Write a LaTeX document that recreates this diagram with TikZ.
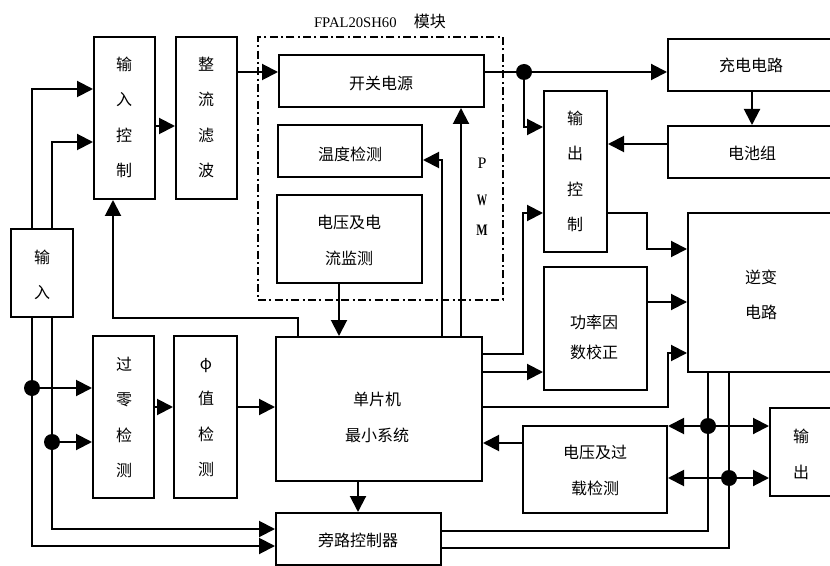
\documentclass[tikz,border=0pt]{standalone}
\usepackage{fontspec}
\usepackage{graphicx}
\setmainfont{Noto Sans CJK SC}
\newfontfamily\latinserif{Liberation Serif}
\usetikzlibrary{arrows.meta,fit}

\begin{document}
\begin{tikzpicture}[x=0.75pt,y=-0.75pt,
  box/.style={draw, line width=1.5pt, inner sep=0pt},
  txt/.style={inner sep=0pt, align=center, yshift=-0.4pt, font=\fontsize{12}{26.5}\selectfont},
  ln/.style={line width=1.5pt},
  arr/.style={line width=1.5pt, -{Triangle[length=12pt,width=12pt]}},
  dot/.style={circle, fill, inner sep=0pt, minimum size=12pt},
  modbox/.style={draw, line width=1.2pt, dash pattern=on 6pt off 2.5pt on 1.5pt off 2.5pt, inner sep=0pt},
  pwm/.style={inner sep=0pt, font=\latinserif\bfseries\fontsize{12}{13}\selectfont},
  lbl/.style={inner sep=0pt}]
\useasboundingbox (0,0) rectangle (830,566);
\clip (0,0) rectangle (830,566);

% module frame
\node[modbox, fit={(258,37) (503,300)}] (mod) {};
\node[lbl] (title) at (380,21) {{\latinserif\fontsize{11}{13}\selectfont FPAL20SH60}\hspace{13pt}{\fontsize{12}{14}\selectfont 模块}};

% boxes
\node[box, fit={(94,37) (155,199)}] (inctl) {};
\node[box, fit={(176,37) (237,199)}] (rect) {};
\node[box, fit={(11,229) (73,317)}] (in) {};
\node[box, fit={(279,55) (484,107)}] (sps) {};
\node[box, fit={(278,125) (422,177)}] (temp) {};
\node[box, fit={(277,195) (422,283)}] (vcm) {};
\node[box, fit={(276,337) (482,481)}] (mcu) {};
\node[box, fit={(276,513) (441,565)}] (byp) {};
\node[box, fit={(93,336) (154,498)}] (zc) {};
\node[box, fit={(174,336) (237,498)}] (phi) {};
\node[box, fit={(668,39) (832,91)}] (charge) {};
\node[box, fit={(668,126) (832,178)}] (batt) {};
\node[box, fit={(544,91) (607,252)}] (outctl) {};
\node[box, fit={(688,213) (832,372)}] (inv) {};
\node[box, fit={(544,267) (647,390)}] (pfc) {};
\node[box, fit={(523,426) (667,513)}] (ovl) {};
\node[box, fit={(770,408) (832,496)}] (out) {};

% texts
\node[txt] (inctl-t) at (124,117) {输\\入\\控\\制};
\node[txt] (rect-t) at (206,117) {整\\流\\滤\\波};
\node[txt] (in-t) at (42,274) {输\\入};
\node[txt] (sps-t) at (381,83) {开关电源};
\node[txt] (temp-t) at (350,154) {温度检测};
\node[txt] (vcm-t) at (349,240) {电压及电\\流监测};
\node[txt] (mcu-t) at (377,417) {单片机\\最小系统};
\node[txt] (byp-t) at (358,540) {旁路控制器};
\node[txt] (zc-t) at (124,417) {过\\零\\检\\测};
\node[txt] (phi-t) at (206,417) {φ\\值\\检\\测};
\node[txt] (charge-t) at (751,65) {充电电路};
\node[txt] (batt-t) at (752,153) {电池组};
\node[txt] (outctl-t) at (575,171) {输\\出\\控\\制};
\node[txt] (inv-t) at (761,294) {逆变\\电路};
\node[txt, font=\fontsize{12}{22.5}\selectfont] (pfc-t) at (594,337) {功率因\\数校正};
\node[txt] (ovl-t) at (595,470) {电压及过\\载检测};
\node[txt] (out-t) at (801,454) {输\\出};

% PWM label
\node[pwm, font=\latinserif\fontsize{12}{13}\selectfont] (p1) at (482,163) {P};
\node[pwm] (p2) at (482,200) {\scalebox{0.65}[1]{W}};
\node[pwm] (p3) at (482,230) {\scalebox{0.75}[1]{M}};

% junctions
\coordinate (j1) at (524,72);
\coordinate (j3) at (32,388);
\coordinate (j4) at (52,442);
\coordinate (j5) at (708,426);
\coordinate (j6) at (729,478);

% input to input control
\draw[arr] (32,0 |- in.north) |- (inctl.west |- 0,89);
\draw[arr] (52,0 |- in.north) |- (inctl.west |- 0,142);
\draw[arr] (inctl.east |- 0,126) -- (rect.west |- 0,126);
\draw[arr] (rect.east |- 0,72) -- (sps.west |- 0,72);

% switching power supply
\draw[ln] (sps.east |- j1) -- (j1);
\draw[arr] (j1) -- (charge.west |- j1);
\draw[arr] (j1) |- (outctl.west |- 0,127);
\draw[arr] (752,0 |- charge.south) -- (752,0 |- batt.north);
\draw[arr] (batt.west |- 0,144) -- (outctl.east |- 0,144);
\draw[arr] (outctl.east |- 0,213) -| (647,249) -- (inv.west |- 0,249);
\draw[arr] (pfc.east |- 0,302) -- (inv.west |- 0,302);

% MCU outputs
\draw[arr] (mcu.east |- 0,354) -| (523,213) -- (outctl.west |- 0,213);
\draw[arr] (mcu.east |- 0,372) -- (pfc.west |- 0,372);
\draw[arr] (mcu.east |- 0,407) -| (668,353) -- (inv.west |- 0,353);
\draw[arr] (ovl.west |- 0,443) -- (mcu.east |- 0,443);

% module to MCU
\draw[arr] (339,0 |- vcm.south) -- (339,0 |- mcu.north);
\draw[arr] (442,0 |- mcu.north) |- (temp.east |- 0,160);
\draw[arr] (461,0 |- mcu.north) -- (461,0 |- sps.south);
\draw[arr] (298,0 |- mcu.north) |- (113,318) -- (inctl.south -| 113,0);

% detection chain
\draw[arr] (zc.east |- 0,407) -- (phi.west |- 0,407);
\draw[arr] (phi.east |- 0,407) -- (mcu.west |- 0,407);

% input lines down
\draw[arr] (32,0 |- in.south) |- (byp.west |- 0,546);
\draw[arr] (52,0 |- in.south) |- (byp.west |- 0,529);
\draw[arr] (j3) -- (zc.west |- j3);
\draw[arr] (j4) -- (zc.west |- j4);

% MCU to bypass
\draw[arr] (358,0 |- mcu.south) -- (358,0 |- byp.north);

% bypass and inverter to output
\draw[ln] (byp.east |- 0,531) -| (708,0 |- inv.south);
\draw[ln] (byp.east |- 0,548) -| (729,0 |- inv.south);
\draw[arr] (j5) -- (ovl.east |- j5);
\draw[arr] (j5) -- (out.west |- j5);
\draw[arr] (j6) -- (ovl.east |- j6);
\draw[arr] (j6) -- (out.west |- j6);

% dots
\node[dot] (d1) at (j1) {};
\node[dot] (d3) at (j3) {};
\node[dot] (d4) at (j4) {};
\node[dot] (d5) at (j5) {};
\node[dot] (d6) at (j6) {};
\end{tikzpicture}
\end{document}
